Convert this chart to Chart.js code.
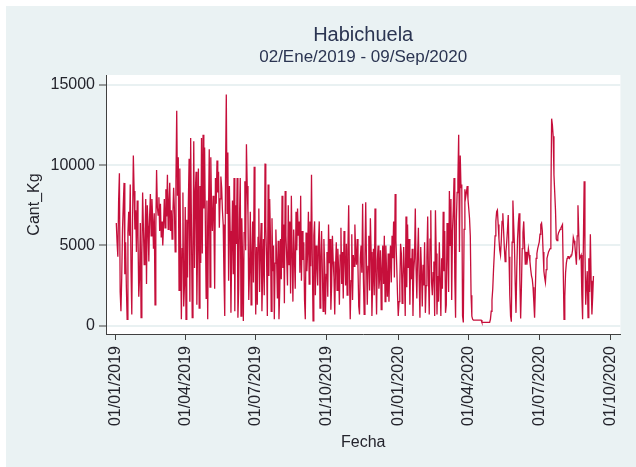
<!DOCTYPE html>
<html>
<head>
<meta charset="utf-8">
<script src="https://cdn.jsdelivr.net/npm/chart.js@4.4.0/dist/chart.umd.min.js"></script>
<style>
  html, body { margin: 0; padding: 0; background: #ffffff; }
  #wrap { width: 636px; height: 467px; position: relative; }
</style>
</head>
<body>
<div id="wrap"><canvas id="c" width="636" height="467"></canvas></div>
<script>
// ---- Data ----
const titulo = 'Habichuela';
const subtitulo = '02/Ene/2019 - 09/Sep/2020';
const tituloY = 'Cant_Kg';
const tituloX = 'Fecha';
const fechaInicio = [2019, 1, 2];   // first observation (year, month, day)
const pasoDias = 1;                  // one reading per day
const cantKg = [
  6400,5200, 4300,7800, 9500,2100, 900,3000, 6000,7500,
  8900,3200, 5200,2400, 400,5800, 7100,5600, 8800,3500,
  700,6500, 10600,8400, 6000,7200, 4600,7800, 5600,1800,
  3000,6400, 500,4500, 8300,6100, 3800,5200, 7900,2600,
  7500,6200, 4000,6800, 8200,5600, 7900,6600, 4800,7000,
  1300,6100, 9700,7400, 6900,8000, 5900,7600, 5500,6500,
  5000,6300, 7900,6100, 8500,6800, 9400,6000, 7700,8900,
  5900,7200, 5400,6900, 8600,7300, 4600,9000, 13400,8100,
  10500,2200, 9800,5200, 400,4800, 8300,1200, 2500,7400,
  400,6600, 3000,7600, 10400,1500, 11700,6200, 500,4300,
  11500,3600, 8300,9600, 1300,5100, 9800,1100, 8700,3900,
  11700,4500, 11900,7300, 11100,6200, 1700,7800, 400,6900,
  11000,2400, 10500,7200, 5900,8100, 6500,2300, 9200,7600,
  10300,8300, 9600,6100, 7900,9300, 8600,7200, 6300,3100,
  600,9400, 14400,7000, 10800,2800, 8700,5900, 800,4800,
  7800,3200, 9200,900, 7500,5100, 9200,500, 2300,6600,
  9200,600, 6700,4200, 300,5800, 9000,4700, 11300,8700,
  6900,1600, 3400,7100, 1300,4300, 6500,2700, 9900,5400,
  700,4900, 1300,5500, 7300,2100, 4800,6400, 900,3300,
  5400,1900, 10100,6200, 4200,600, 8800,3100, 7900,5600,
  900,6700, 3400,5000, 400,3900, 6000,4100, 1700,5300,
  400,2200, 5400,2900, 8100,3600, 6300,1400, 8400,5600,
  4200,2500, 7500,3800, 6500,2000, 8100,4400, 1500,6000,
  4200,2300, 7100,4700, 7300,5600, 6500,3300, 8100,2800,
  5900,4100, 5200,1600, 400,5800, 3400,4600, 7100,2600,
  6500,3700, 9400,4300, 300,5600, 6500,1900, 5000,3800,
  2500,5200, 6500,1100, 4200,5900, 3400,900, 5400,3700,
  700,3200, 4600,1800, 6300,3900, 5400,1000, 2500,5600,
  4000,3000, 700,3600, 5200,2200, 4800,3500, 1300,4400,
  6100,2600, 4600,1700, 5900,4300, 2500,5100, 1900,4700,
  7500,3100, 400,2800, 5700,1600, 4400,3700, 6300,4600,
  3800,5400, 3600,1200, 700,4200, 5000,3300, 7600,2900,
  700,4300, 7700,3900, 1300,3700, 5600,2200, 6700,4600,
  600,2700, 4800,1900, 7300,3300, 700,4100, 5000,2300,
  3000,4700, 1000,3600, 5000,2600, 5600,1500, 5000,3200,
  1800,4500, 1500,3800, 5000,2700, 5600,4200, 6500,3000,
  8200,5300, 3800,2000, 600,1500, 2500,5100, 4500,1400,
  2900,4900, 3200,600, 6800,2400, 6300,3600, 5400,1300,
  4200,2900, 4800,600, 3400,4200, 7300,3500, 1700,4400,
  6100,2800, 500,4900, 3400,1200, 3800,2500, 5200,800,
  2500,4300, 6800,3100, 700,5400, 7200,2700, 1900,3300,
  4000,600, 7200,4500, 700,3100, 1500,5200, 2900,600,
  4200,2300, 7100,3400, 5900,800, 1300,6400, 4800,2100,
  8400,5000, 7900,1600, 5900,7200, 9200,3000, 500,6500,
  8300,9100, 11900,4600, 10600,8600, 8800,600, 200,6000,
  8500,8000, 8300,8700, 7900,7300, 6700,5600, 1900,600,
  400,350, 350,350, 350,350, 350,350, 350,350,
  350,350, 210,210, 210,210, 210,210, 210,210,
  210,210, 210,400, 900,1600, 2300,3500, 4500,5600,
  6500,7100, 7200,6300, 5400,4700, 4400,5300, 6500,7000,
  5900,4800, 4000,4600, 5200,6000, 6900,4300, 1900,600,
  250,5200, 7800,6300, 5000,2600, 800,3500, 5400,6400,
  7000,2800, 450,2400, 4800,5800, 6500,5100, 3800,4600,
  3800,4300, 4800,4400, 4000,3500, 3100,2900, 2400,1500,
  500,2300, 4200,4500, 4800,5000, 5200,5700, 6300,6400,
  5900,4600, 3400,3000, 2700,3500, 4200,4400, 4600,4700,
  4800,7600, 12900,12500, 11800,9400, 8300,7200, 5400,5300,
  5600,5800, 5900,6000, 6100,6200, 6300,3400, 400,1800,
  3300,3900, 4200,4300, 4300,4200, 4300,4400, 4400,4700,
  5500,5300, 5000,4400, 3800,5600, 7500,5800, 4200,4300,
  4400,1900, 400,5200, 9000,4800, 1300,2500, 3400,500,
  4200,2100, 5700,2800, 700,1800, 3100
];
const etiquetasX = ['01/01/2019', '01/04/2019', '01/07/2019', '01/10/2019',
                    '01/01/2020', '01/04/2020', '01/07/2020', '01/10/2020'];
const ticksY = [0, 5000, 10000, 15000];

// ---- Build library structures from the arrays ----
const base = Date.UTC(2019, 0, 1);
function diaDesde(y, m, d) { return (Date.UTC(y, m - 1, d) - base) / 86400000; }
const x0 = diaDesde(fechaInicio[0], fechaInicio[1], fechaInicio[2]);
const puntos = cantKg.map((v, i) => ({ x: x0 + i * pasoDias, y: v }));
const ticksX = etiquetasX.map(s => {
  const p = s.split('/').map(Number);
  return diaDesde(p[2], p[1], p[0]);
});

const FONT = '"Liberation Sans", Arial, Helvetica, sans-serif';
const TXT = '#24242c';

const fondo = {
  id: 'fondo',
  beforeDraw(chart) {
    const { ctx, chartArea: a, width, height } = chart;
    ctx.save();
    ctx.fillStyle = '#ffffff';
    ctx.fillRect(0, 0, width, height);
    ctx.fillStyle = '#eaf2f3';
    ctx.fillRect(6, 6, width - 6, height - 6);
    ctx.fillStyle = '#ffffff';
    ctx.fillRect(a.left, a.top, a.right - a.left, a.bottom - a.top);
    ctx.restore();
  }
};

new Chart(document.getElementById('c'), {
  type: 'line',
  data: {
    datasets: [{
      label: tituloY,
      data: puntos,
      borderColor: '#c60f3b',
      borderWidth: 1.3,
      pointRadius: 0,
      tension: 0,
      fill: false
    }]
  },
  options: {
    responsive: false,
    animation: false,
    devicePixelRatio: 1,
    layout: { padding: { top: 0, left: 0, right: 11, bottom: 0 } },
    plugins: {
      legend: { display: false },
      tooltip: { enabled: false },
      title: {
        display: true, text: titulo, fullSize: false, color: '#2b3552',
        font: { family: FONT, size: 20, weight: 'normal' },
        padding: { top: 23, bottom: 0 }
      },
      subtitle: {
        display: true, text: subtitulo, fullSize: false, color: '#2b3552',
        font: { family: FONT, size: 17, weight: 'normal' },
        padding: { top: 0, bottom: 7.6 }
      }
    },
    scales: {
      x: {
        type: 'linear',
        min: -12.3,
        max: 651.8,
        afterBuildTicks: s => { s.ticks = ticksX.map(v => ({ value: v })); },
        afterFit: s => { s.height = 133; },
        ticks: {
          autoSkip: false, minRotation: 90, maxRotation: 90, padding: 6,
          color: TXT, font: { family: FONT, size: 16 },
          callback: (v) => { const k = ticksX.indexOf(v); return k >= 0 ? etiquetasX[k] : ''; }
        },
        grid: { drawOnChartArea: false, tickLength: 6, tickColor: '#404040', tickWidth: 1 },
        border: { display: true, color: '#404040', width: 1 },
        title: {
          display: true, text: tituloX, color: TXT,
          font: { family: FONT, size: 16 },
          padding: { top: 0, bottom: 15 }
        }
      },
      y: {
        min: -517,
        max: 15623,
        afterBuildTicks: s => { s.ticks = ticksY.map(v => ({ value: v })); },
        afterFit: s => { s.width = 106; },
        ticks: {
          padding: 4, color: TXT, font: { family: FONT, size: 16 },
          callback: v => String(v)
        },
        grid: { color: '#e9f1f2', lineWidth: 2, tickLength: 7, tickColor: '#404040', tickWidth: 1 },
        border: { display: true, color: '#404040', width: 1 },
        title: {
          display: true, text: tituloY, color: TXT,
          font: { family: FONT, size: 16 },
          padding: { top: 25, bottom: 0 }
        }
      }
    }
  },
  plugins: [fondo]
});
</script>
</body>
</html>
